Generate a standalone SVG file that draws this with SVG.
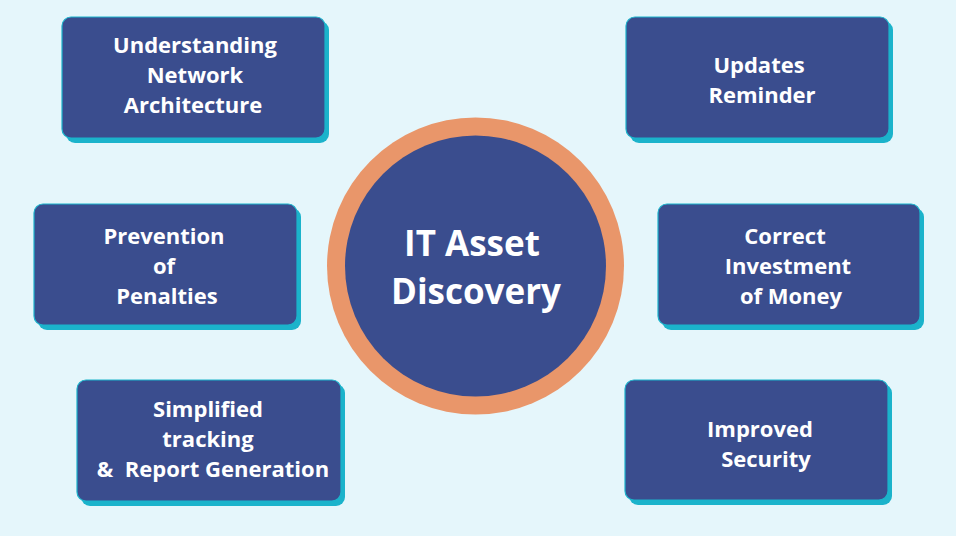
<svg xmlns="http://www.w3.org/2000/svg" width="956" height="536" viewBox="0 0 956 536">
<defs>
<style>
.bg{fill:#e5f6fb}
.shadow{fill:#1bb3cb}
.box{fill:#3a4d8e;stroke:#1bb3cb;stroke-width:1.2}
.t{font-family:"Open Sans","Noto Sans",sans-serif;font-weight:bold;font-size:22px;fill:#ffffff;text-anchor:middle}
.big{font-size:35px}
</style>
</defs>
<rect class="bg" x="0" y="0" width="956" height="536"/>
<g id="connectors"></g>
<g id="center">
<circle cx="475.5" cy="266" r="148.5" fill="#e9966a"/>
<circle cx="475.5" cy="266" r="130.5" fill="#3a4d8e"/>
<text class="t big" x="472" y="256">IT Asset</text>
<text class="t big" x="476" y="304">Discovery</text>
</g>
<g id="n1">
<rect class="shadow" x="66" y="21" width="263" height="122" rx="9"/>
<rect class="box" x="62" y="17" width="263" height="121" rx="9"/>
<text class="t" x="195" y="53">Understanding</text>
<text class="t" x="195" y="83">Network</text>
<text class="t" x="193" y="113">Architecture</text>
</g>
<g id="n2">
<rect class="shadow" x="630" y="21" width="263" height="122" rx="9"/>
<rect class="box" x="626" y="17" width="263" height="121" rx="9"/>
<text class="t" x="759" y="73">Updates</text>
<text class="t" x="762" y="103">Reminder</text>
</g>
<g id="n3">
<rect class="shadow" x="38" y="208" width="263" height="122" rx="9"/>
<rect class="box" x="34" y="204" width="263" height="121" rx="9"/>
<text class="t" x="164" y="244">Prevention</text>
<text class="t" x="164" y="274">of</text>
<text class="t" x="167" y="304">Penalties</text>
</g>
<g id="n4">
<rect class="shadow" x="662" y="208" width="262" height="122" rx="9"/>
<rect class="box" x="658" y="204" width="262" height="121" rx="9"/>
<text class="t" x="785" y="244">Correct</text>
<text class="t" x="788" y="274">Investment</text>
<text class="t" x="791" y="304">of Money</text>
</g>
<g id="n5">
<rect class="shadow" x="81" y="384" width="264" height="122" rx="9"/>
<rect class="box" x="77" y="380" width="264" height="121" rx="9"/>
<text class="t" x="208" y="417">Simplified</text>
<text class="t" x="208" y="447">tracking</text>
<text class="t" x="213" y="477" xml:space="preserve">&amp;  Report Generation</text>
</g>
<g id="n6">
<rect class="shadow" x="629" y="384" width="263" height="121" rx="9"/>
<rect class="box" x="625" y="380" width="263" height="120" rx="9"/>
<text class="t" x="760" y="437">Improved</text>
<text class="t" x="766" y="467">Security</text>
</g>
</svg>
